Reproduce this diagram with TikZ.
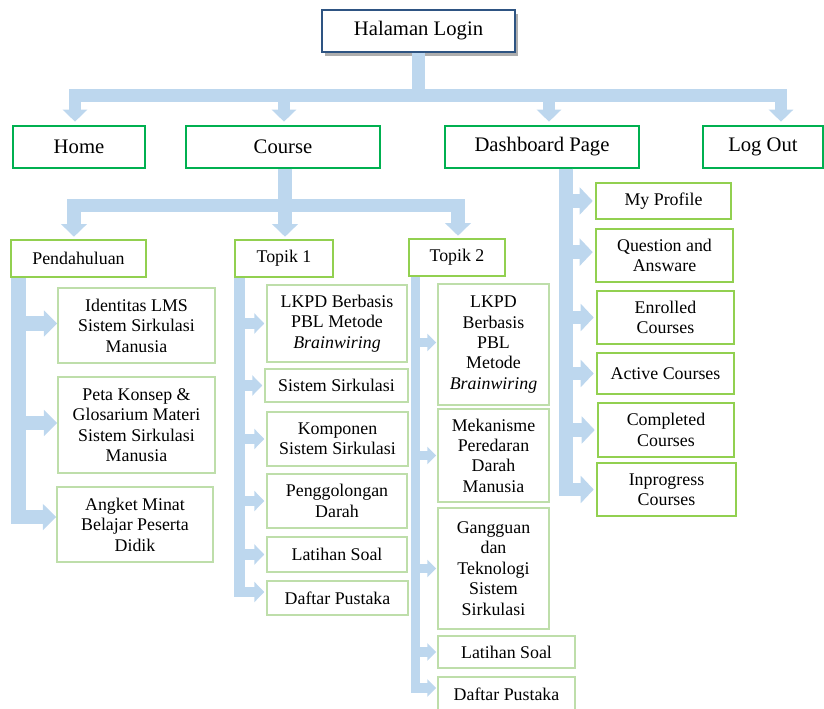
\documentclass[tikz,border=0pt]{standalone}
\usepackage{fontspec}
\setmainfont{Liberation Serif}
\usepackage{xcolor}
\usetikzlibrary{arrows.meta,positioning,shadows}
\definecolor{lmsblue}{RGB}{46,84,130}
\definecolor{lmsarrow}{RGB}{189,215,238}
\definecolor{lmsgreen}{RGB}{0,176,80}
\definecolor{lmslime}{RGB}{146,208,80}
\definecolor{lmspale}{RGB}{190,222,170}

\begin{document}
\begin{tikzpicture}[x=0.75pt, y=-0.75pt,
  loginbox/.style={rectangle, draw=lmsblue, line width=1.5pt, fill=white, drop shadow={shadow xshift=2pt, shadow yshift=-3pt, fill=black!70, opacity=0.45}, minimum width=144.75pt, minimum height=31.5pt, font=\fontsize{15.5}{18}\selectfont},
  menubox/.style={rectangle, draw=lmsgreen, line width=1.5pt, minimum height=31.5pt, font=\fontsize{15.5}{18}\selectfont},
  subbox/.style={rectangle, draw=lmslime, line width=1.9pt, align=center, font=\fontsize{13.4}{15.3}\selectfont},
  itembox/.style={rectangle, draw=lmspale, line width=1.1pt, align=center, font=\fontsize{13.4}{15.3}\selectfont},
  flow/.style n args={3}{draw=lmsarrow, line join=miter, line width=#1, -{Triangle[length=#2 0 0, width=#3 0 0]}},
]
  \useasboundingbox (0,0) rectangle (824,709);

  % top level
  \node[loginbox] (login) at (418.5,31) {Halaman Login};
  \node[menubox, minimum width=99pt] (home) at (79,147) {Home};
  \node[menubox, minimum width=145.5pt] (course) at (283,147) {Course};
  \node[menubox, minimum width=145.5pt] (dash) at (542,147) {Dashboard Page};
  \node[menubox, minimum width=90pt] (logout) at (763,147) {Log Out};

  % course menu
  \node[subbox, minimum width=101.25pt, minimum height=27.75pt] (pend) at (78.5,258.5) {Pendahuluan};
  \node[subbox, minimum width=73.5pt, minimum height=27.75pt] (topik1) at (284,258.5) {Topik 1};
  \node[subbox, minimum width=72pt, minimum height=27.75pt] (topik2) at (457,257.5) {Topik 2};

  \node[itembox, minimum width=117.75pt, minimum height=56.25pt] (ident) at (136.5,325.5) {Identitas LMS\\Sistem Sirkulasi\\Manusia};
  \node[itembox, minimum width=117.75pt, minimum height=72pt] (peta) at (136.5,425) {Peta Konsep \&\\Glosarium Materi\\Sistem Sirkulasi\\Manusia};
  \node[itembox, minimum width=117pt, minimum height=56.25pt] (angket) at (135,524.5) {Angket Minat\\Belajar Peserta\\Didik};

  \node[itembox, minimum width=105pt, minimum height=57.75pt] (lkpda) at (337,323.5) {LKPD Berbasis\\PBL Metode\\\textit{Brainwiring}};
  \node[itembox, minimum width=107.25pt, minimum height=24.75pt] (sistema) at (336.5,385.5) {Sistem Sirkulasi};
  \node[itembox, minimum width=105.75pt, minimum height=40.5pt] (komponena) at (337.5,439) {Komponen\\Sistem Sirkulasi};
  \node[itembox, minimum width=105pt, minimum height=40.5pt] (golongan) at (337,501) {Penggolongan\\Darah};
  \node[itembox, minimum width=105pt, minimum height=26.25pt] (latihana) at (337,554.5) {Latihan Soal};
  \node[itembox, minimum width=105.75pt, minimum height=25.5pt] (daftara) at (337.5,598) {Daftar Pustaka};

  \node[itembox, minimum width=83.25pt, minimum height=90.75pt] (lkpdb) at (493.5,344.5) {LKPD\\Berbasis\\PBL\\Metode\\\textit{Brainwiring}};
  \node[itembox, minimum width=83.25pt, minimum height=69.75pt] (mekanisme) at (493.5,455.5) {Mekanisme\\Peredaran\\Darah\\Manusia};
  \node[itembox, minimum width=83.25pt, minimum height=90.75pt] (gangguan) at (493.5,568.5) {Gangguan\\dan\\Teknologi\\Sistem\\Sirkulasi};
  \node[itembox, minimum width=102.75pt, minimum height=24pt] (latihanb) at (506.5,652) {Latihan Soal};
  \node[itembox, minimum width=102.75pt, minimum height=25.5pt] (daftarb) at (506.5,694) {Daftar Pustaka};

  % dashboard menu
  \node[subbox, minimum width=101.25pt, minimum height=27pt] (profil) at (663.5,201) {My Profile};
  \node[subbox, minimum width=102.75pt, minimum height=39.75pt] (tanya) at (664.5,255.5) {Question and\\Answare};
  \node[subbox, minimum width=102.75pt, minimum height=39.75pt] (enrolled) at (665.5,317.5) {Enrolled\\Courses};
  \node[subbox, minimum width=102.75pt, minimum height=30.75pt] (active) at (665.5,373.5) {Active Courses};
  \node[subbox, minimum width=102pt, minimum height=40.5pt] (completed) at (666,430) {Completed\\Courses};
  \node[subbox, minimum width=104.25pt, minimum height=39.75pt] (inprogress) at (666.5,489.5) {Inprogress\\Courses};

  % connectors
  \draw[flow={9.5pt}{9pt}{18pt}, shorten >=2.5pt] (login.south) -- ++(0,42.5) -| ([xshift=-3pt]home.north);
  \draw[flow={9.5pt}{9pt}{18pt}, shorten >=2.5pt] (login.south) -- ++(0,42.5) -| ([xshift=0.75pt]course.north);
  \draw[flow={9.5pt}{9pt}{18pt}, shorten >=2.5pt] (login.south) -- ++(0,42.5) -| ([xshift=5.25pt]dash.north);
  \draw[flow={9.5pt}{9pt}{18pt}, shorten >=2.5pt] (login.south) -- ++(0,42.5) -| ([xshift=13.5pt]logout.north);

  \draw[flow={10pt}{9.5pt}{19pt}, shorten >=1.5pt] ([xshift=1.5pt]course.south) -- ++(0,36.5) -| ([xshift=-3.4pt]pend.north);
  \draw[flow={10pt}{9.5pt}{19pt}, shorten >=1.5pt] ([xshift=1.5pt]course.south) -- ++(0,36.5) -| ([xshift=0.75pt]topik1.north);
  \draw[flow={10pt}{9.5pt}{19pt}, shorten >=1.5pt] ([xshift=1.5pt]course.south) -- ++(0,36.5) -| ([xshift=0.75pt]topik2.north);

  \draw[flow={11pt}{10pt}{19pt}] ([xshift=6.4pt]pend.south west) |- ([yshift=1.5pt]ident.west);
  \draw[flow={11pt}{10pt}{19pt}] ([xshift=6.4pt]pend.south west) |- ([yshift=1.5pt]peta.west);
  \draw[flow={11pt}{10pt}{19pt}] ([xshift=6.4pt]pend.south west) |- ([yshift=5.6pt]angket.west);

  \draw[flow={8pt}{7.5pt}{15pt}, shorten >=1.5pt] ([xshift=4.5pt]topik1.south west) |- (lkpda.west);
  \draw[flow={8pt}{7.5pt}{15pt}, shorten >=1.5pt] ([xshift=4.5pt]topik1.south west) |- (sistema.west);
  \draw[flow={8pt}{7.5pt}{15pt}, shorten >=1.5pt] ([xshift=4.5pt]topik1.south west) |- (komponena.west);
  \draw[flow={8pt}{7.5pt}{15pt}, shorten >=1.5pt] ([xshift=4.5pt]topik1.south west) |- (golongan.west);
  \draw[flow={8pt}{7.5pt}{15pt}, shorten >=1.5pt] ([xshift=4.5pt]topik1.south west) |- (latihana.west);
  \draw[flow={8pt}{7.5pt}{15pt}, shorten >=1.5pt] ([xshift=4.5pt]topik1.south west) |- ([yshift=4.5pt]daftara.west);

  \draw[flow={7pt}{6.75pt}{12.75pt}, shorten >=0.75pt] ([xshift=6pt]topik2.south west) |- ([yshift=1.5pt]lkpdb.west);
  \draw[flow={7pt}{6.75pt}{12.75pt}, shorten >=0.75pt] ([xshift=6pt]topik2.south west) |- (mekanisme.west);
  \draw[flow={7pt}{6.75pt}{12.75pt}, shorten >=0.75pt] ([xshift=6pt]topik2.south west) |- (gangguan.west);
  \draw[flow={7pt}{6.75pt}{12.75pt}, shorten >=0.75pt] ([xshift=6pt]topik2.south west) |- (latihanb.west);
  \draw[flow={7pt}{6.75pt}{12.75pt}, shorten >=0.75pt] ([xshift=6pt]topik2.south west) |- ([yshift=4.5pt]daftarb.west);

  \draw[flow={10pt}{9.75pt}{20pt}, shorten >=1.5pt] ([xshift=18pt]dash.south) |- (profil.west);
  \draw[flow={10pt}{9.75pt}{20pt}, shorten >=1.5pt] ([xshift=18pt]dash.south) |- ([yshift=2.5pt]tanya.west);
  \draw[flow={10pt}{9.75pt}{20pt}, shorten >=1.5pt] ([xshift=18pt]dash.south) |- (enrolled.west);
  \draw[flow={10pt}{9.75pt}{20pt}, shorten >=1.5pt] ([xshift=18pt]dash.south) |- (active.west);
  \draw[flow={10pt}{9.75pt}{20pt}, shorten >=1.5pt] ([xshift=18pt]dash.south) |- (completed.west);
  \draw[flow={10pt}{9.75pt}{20pt}, shorten >=1.5pt] ([xshift=18pt]dash.south) |- (inprogress.west);
\end{tikzpicture}
\end{document}
